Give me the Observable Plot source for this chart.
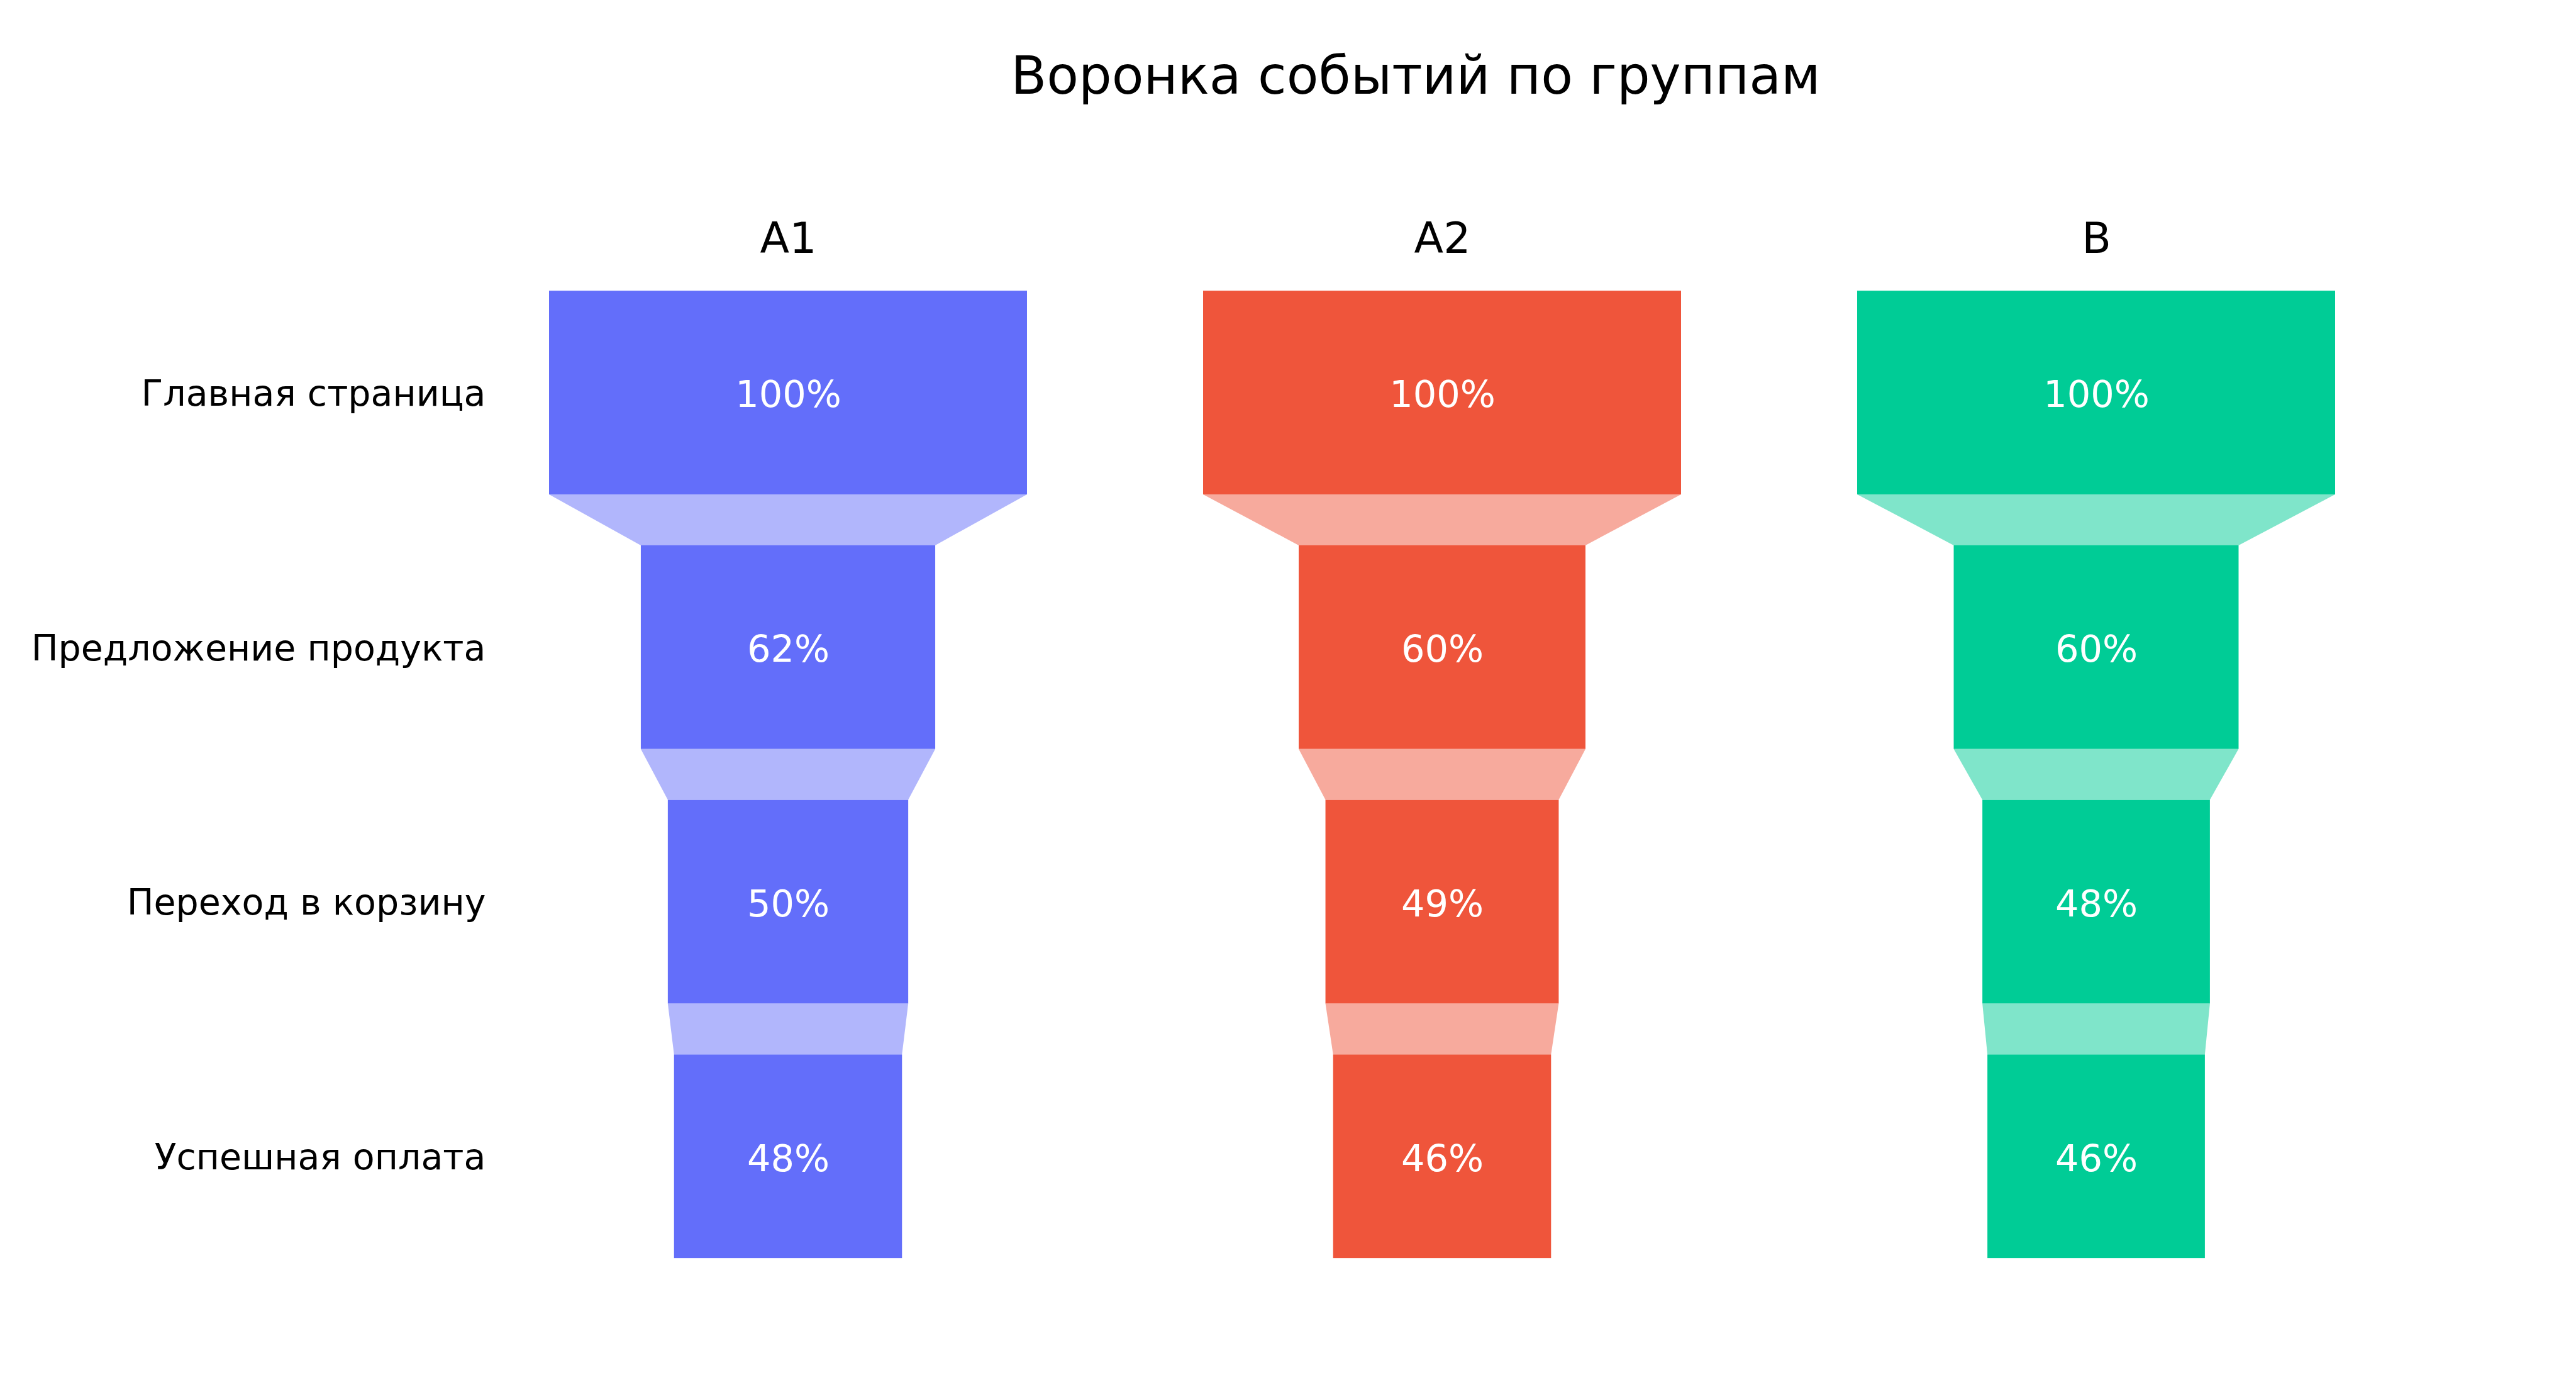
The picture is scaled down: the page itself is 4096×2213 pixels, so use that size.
<!DOCTYPE html>
<html>
<head>
<meta charset="utf-8">
<script src="https://cdn.jsdelivr.net/npm/d3@7"></script>
<script src="https://cdn.jsdelivr.net/npm/@observablehq/plot@0.6"></script>
<style>
  html, body { margin: 0; padding: 0; background: #fff; }
  #wrap { width: 4096px; height: 2213px; overflow: hidden; font-family: "DejaVu Sans", sans-serif; }
  #title {
    box-sizing: border-box; width: 4096px; height: 200px;
    padding-top: 78.5px; padding-left: 406px;
    text-align: center; font-size: 83px; line-height: 83px; color: #000;
    white-space: nowrap;
  }
  svg { display: block; }
</style>
</head>
<body>
<div id="wrap">
  <div id="title">Воронка событий по группам</div>
  <div id="chart"></div>
</div>
<script>
const groups = ["A1", "A2", "B"];
const stages = ["Главная страница", "Предложение продукта", "Переход в корзину", "Успешная оплата"];
const valuesA1 = [100, 61.6, 50.3, 47.7];
const valuesA2 = [100, 60.0, 48.8, 45.6];
const valuesB = [100, 59.6, 47.6, 45.5];
const colors = ["#636EFA", "#EF553B", "#00CC96"];
const title = "Воронка событий по группам";

const series = {A1: valuesA1, A2: valuesA2, B: valuesB};
const half = 0.4;

const bars = [];
for (const g of groups) {
  series[g].forEach((v, i) => bars.push({group: g, stage: i, value: v}));
}
const connectors = [];
for (const g of groups) {
  const vals = series[g];
  for (let i = 0; i < vals.length - 1; i++) {
    connectors.push({group: g, conn: g + i, y: i + half, x1: -vals[i] / 2, x2: vals[i] / 2});
    connectors.push({group: g, conn: g + i, y: i + 1 - half, x1: -vals[i + 1] / 2, x2: vals[i + 1] / 2});
  }
}

const chart = Plot.plot({
  width: 4096,
  height: 2013,
  marginTop: 221.7,
  marginBottom: 172.4,
  marginLeft: 872,
  marginRight: 383,
  style: {fontFamily: "DejaVu Sans", background: "#fff", color: "#000"},
  fx: {domain: groups, paddingInner: 0.2694, paddingOuter: 0, axis: null, label: null},
  x: {domain: [-50, 50], axis: null},
  y: {domain: [-0.5, 3.5], reverse: true, axis: null},
  color: {domain: groups, range: colors},
  marks: [
    Plot.areaX(connectors, {fx: "group", y: "y", x1: "x1", x2: "x2", z: "conn", fill: "group", fillOpacity: 0.5, curve: "linear"}),
    Plot.rect(bars, {fx: "group", x1: d => -d.value / 2, x2: d => d.value / 2, y1: d => d.stage - half, y2: d => d.stage + half, fill: "group"}),
    Plot.text(bars, {fx: "group", y: "stage", frameAnchor: "middle", text: d => Math.round(d.value) + "%", fill: "white", fontSize: 59, dy: 4}),
    Plot.text(groups, {fx: d => d, text: d => d, frameAnchor: "top", lineAnchor: "bottom", dy: -20.1, fontSize: 68, fill: "#000"}),
    Plot.axisY([0, 1, 2, 3], {tickFormat: i => stages[i], tickSize: 0, tickPadding: 101, fontSize: 57, label: null, fill: "#000", dy: 2})
  ]
});
document.getElementById("chart").appendChild(chart);
</script>
</body>
</html>
